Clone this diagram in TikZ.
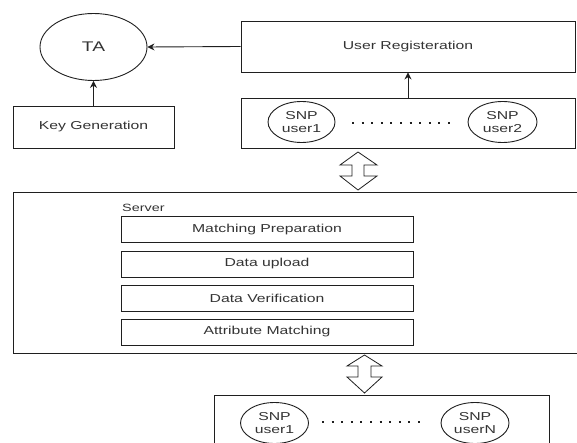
\documentclass[tikz,border=0pt]{standalone}
\usepackage{fontspec}
\setmainfont{Liberation Sans}
\usetikzlibrary{shapes.geometric,arrows.meta}
% wide sans lettering, as used throughout the figure
\newcommand{\wtxt}[1]{\scalebox{1.37}[1]{#1}}
\definecolor{ink}{gray}{0.12}
\definecolor{txt}{gray}{0.2}
\tikzset{
  box/.style={draw=ink, line width=0.9pt, rectangle, inner sep=0pt, text=txt,
              font=\fontsize{11.5}{12.5}\selectfont},
  oval/.style={draw=ink, line width=0.9pt, ellipse, inner sep=0pt, text=txt,
               align=center, font=\fontsize{11.5}{12.5}\selectfont},
  link/.style={draw=ink, line width=0.9pt, -{Stealth[length=7pt,width=7pt]}},
  blockarrow/.style={draw=ink, line width=0.8pt, fill=white, line join=miter},
  dotrow/.style={draw=ink, line width=2pt, dash pattern=on 2pt off 7.6pt},
}
\begin{document}
\begin{tikzpicture}[x=1pt,y=-1pt]
\useasboundingbox (0,0) rectangle (577,443);
\clip (0,0) rectangle (577,443);

% trusted authority and key generation
\node[oval, minimum width=107pt, minimum height=67pt,
      font=\fontsize{14}{16}\selectfont] (ta) at (93.5,47) {\wtxt{TA}};
\node[box, minimum width=161pt, minimum height=42pt] (keygen) at (93.5,127) {\wtxt{Key Generation}};

% registration and the upper group of users
\node[box, minimum width=334pt, minimum height=51pt] (userreg) at (408,46.5) {\wtxt{User Registeration}};
\node[box, minimum width=334pt, minimum height=50pt] (snpbox) at (408,123) {};
\node[oval, minimum width=67pt, minimum height=41pt] (snpa) at (301.5,122) {\wtxt{SNP}\\\wtxt{user1}};
\node[oval, minimum width=69pt, minimum height=41pt] (snpb) at (502.5,122) {\wtxt{SNP}\\\wtxt{user2}};
\coordinate (dota) at (352,123);
\coordinate (dotb) at (455,123);
\draw[dotrow] (dota) -- (dotb);

\draw[link] (userreg.west) -- (ta.east);
\draw[link] (keygen.north) -- (ta.south);
\draw[link] (snpbox.north) -- (userreg.south);

% two-way exchange with the server
\draw[blockarrow] (358,152) -- (377,165) -- (364,165) -- (364,176) -- (377,176)
  -- (358,190) -- (340,176) -- (352,176) -- (352,165) -- (340,165) -- cycle;

% server and its stages
\draw[ink, line width=0.9pt] (600,192) -- (13,192) -- (13,353) -- (600,353);
\node[anchor=west, text=txt, font=\fontsize{10.5}{12}\selectfont, inner sep=0pt] (srv) at (122,208) {\wtxt{Server}};
\node[box, minimum width=292pt, minimum height=26pt] (prep) at (267,229.5) {\wtxt{Matching Preparation}};
\node[box, minimum width=292pt, minimum height=26pt] (upload) at (267,264) {\wtxt{Data upload}};
\node[box, minimum width=292pt, minimum height=26pt] (verify) at (267,298) {\wtxt{Data Verification}};
\node[box, minimum width=292pt, minimum height=26pt] (attr) at (267,332) {\wtxt{Attribute Matching}};

% exchange with the lower group of users
\draw[blockarrow] (364.5,355) -- (382,366) -- (371,366) -- (371,377) -- (382,377)
  -- (364.5,393) -- (347,377) -- (358,377) -- (358,366) -- (347,366) -- cycle;

\draw[ink, line width=0.9pt] (214,460) -- (214,395) -- (549,395) -- (549,460);
\node[oval, minimum width=68pt, minimum height=41pt] (snpc) at (274.5,423) {\wtxt{SNP}\\\wtxt{user1}};
\node[oval, minimum width=68pt, minimum height=41pt] (snpn) at (475,423) {\wtxt{SNP}\\\wtxt{userN}};
\coordinate (dotc) at (322,422);
\coordinate (dotd) at (420,422);
\draw[dotrow] (dotc) -- (dotd);
\end{tikzpicture}
\end{document}
